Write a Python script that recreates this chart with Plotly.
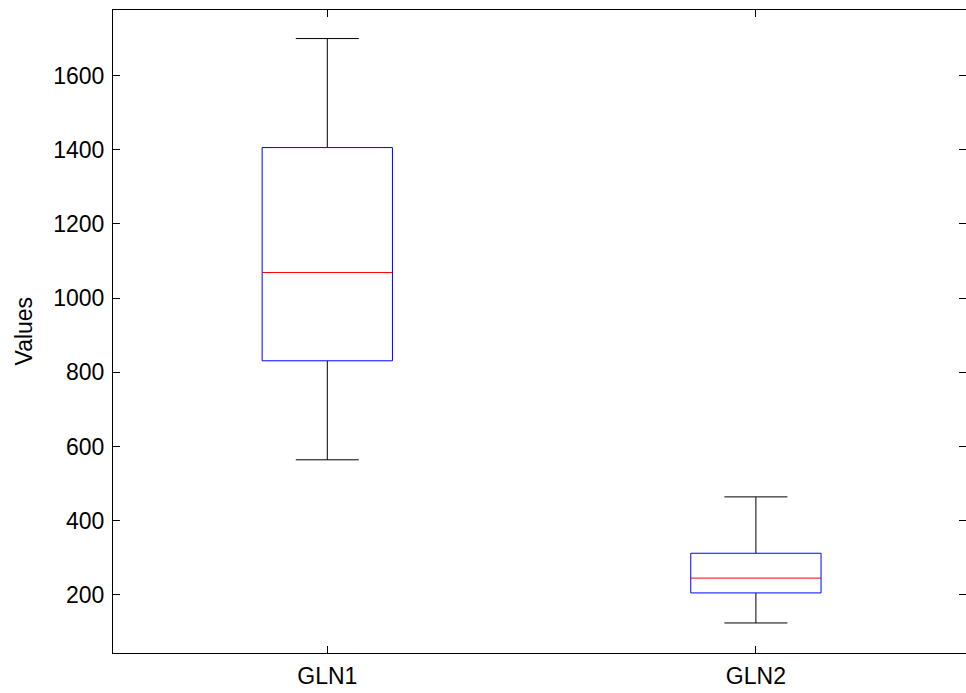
import plotly.graph_objects as go

# ---- data ----
categories = ["GLN1", "GLN2"]
lower_whisker = [564, 124]
q1 = [831, 205]
median = [1069, 245]
q3 = [1406, 312]
upper_whisker = [1700, 464]
y_ticks = [200, 400, 600, 800, 1000, 1200, 1400, 1600]

positions = [1, 2]
BOX_HALF = 0.152
CAP_HALF = 0.0735

box_x, box_y = [], []
wh_x, wh_y = [], []
med_x, med_y = [], []
for p, lo, a, m, b, hi in zip(positions, lower_whisker, q1, median, q3, upper_whisker):
    box_x += [p - BOX_HALF, p + BOX_HALF, p + BOX_HALF, p - BOX_HALF, p - BOX_HALF, None]
    box_y += [a, a, b, b, a, None]
    # whiskers + caps
    wh_x += [p, p, None, p, p, None,
             p - CAP_HALF, p + CAP_HALF, None, p - CAP_HALF, p + CAP_HALF, None]
    wh_y += [b, hi, None, a, lo, None, hi, hi, None, lo, lo, None]
    med_x += [p - BOX_HALF, p + BOX_HALF, None]
    med_y += [m, m, None]

fig = go.Figure()
fig.add_trace(go.Scatter(x=wh_x, y=wh_y, mode="lines",
                         line=dict(color="#000000", width=1),
                         hoverinfo="skip", showlegend=False))
fig.add_trace(go.Scatter(x=box_x, y=box_y, mode="lines",
                         line=dict(color="#0000ff", width=1),
                         hoverinfo="skip", showlegend=False))
fig.add_trace(go.Scatter(x=med_x, y=med_y, mode="lines",
                         line=dict(color="#ff0000", width=1),
                         hoverinfo="skip", showlegend=False))
# empty trace to anchor the right-hand tick axis
fig.add_trace(go.Scatter(x=[], y=[], yaxis="y2", showlegend=False, hoverinfo="skip"))

W, H = 966, 693
L, R, T, B = 113, 0, 10, 40
plot_w = W - L - R
px_per_unit = 428.6
x_range = [0.5, 0.5 + plot_w / px_per_unit]
y_range = [43, 1777]

font = dict(family="Liberation Sans, Arial, sans-serif", size=23, color="#000000")

fig.update_layout(
    width=W, height=H,
    margin=dict(l=L, r=R, t=T, b=B, autoexpand=False),
    plot_bgcolor="white", paper_bgcolor="white",
    font=font,
    xaxis=dict(range=x_range, tickvals=positions, ticktext=categories,
               ticks="inside", ticklen=7, tickcolor="#000000", tickwidth=1,
               showline=True, linecolor="#000000", linewidth=1, mirror="ticks",
               showgrid=False, zeroline=False, ticklabelstandoff=2,
               automargin=False),
    yaxis=dict(range=y_range, tickvals=y_ticks,
               ticks="inside", ticklen=7, tickcolor="#000000", tickwidth=1,
               showline=True, linecolor="#000000", linewidth=1, mirror=False,
               showgrid=False, zeroline=False, ticklabelstandoff=3,
               automargin=False),
    yaxis2=dict(range=y_range, tickvals=y_ticks, overlaying="y", side="right",
                ticks="inside", ticklen=7, tickcolor="#000000", tickwidth=1,
                showticklabels=False, showline=False, showgrid=False, zeroline=False,
                automargin=False),
    annotations=[dict(text="Values", xref="paper", yref="paper",
                      x=-(L - 23) / plot_w, y=0.5, xanchor="center", yanchor="middle",
                      textangle=-90, showarrow=False, font=font)],
)

fig.write_html("out.html")
